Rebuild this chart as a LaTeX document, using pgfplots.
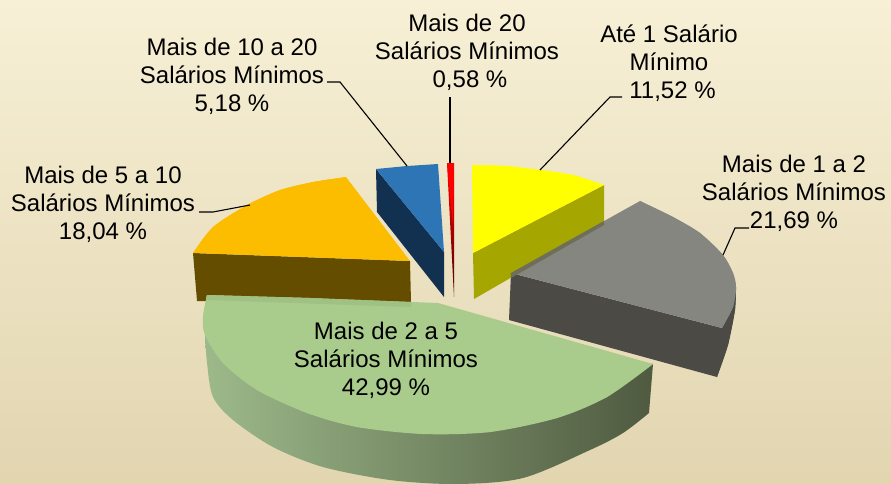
\documentclass[border=0pt]{standalone}
\usepackage{fontspec}
\setmainfont{Liberation Sans}
\usepackage{pgfplots}
\pgfplotsset{compat=1.18}
\definecolor{bgtop}{HTML}{F7F0D6}
\definecolor{bgmid}{HTML}{EEE4C6}
\definecolor{bgbot}{HTML}{E2D5B0}
\definecolor{pyellow}{HTML}{FFFF00}
\definecolor{pyellowd}{HTML}{A6A600}
\definecolor{pgray}{HTML}{868681}
\definecolor{pgrayd}{HTML}{4B4A44}
\definecolor{pgreen}{HTML}{A9CC8D}
\definecolor{pgreens}{HTML}{A0C184}
\definecolor{pgreenl}{HTML}{9DB98A}
\definecolor{pgreenm}{HTML}{74896A}
\definecolor{pgreend}{HTML}{4F5A40}
\definecolor{porange}{HTML}{FCBD00}
\definecolor{pbrown}{HTML}{654D00}
\definecolor{pblue}{HTML}{2E75B6}
\definecolor{pblued}{HTML}{12304F}
\begin{document}
\begin{tikzpicture}
\begin{axis}[
    scale only axis,
    width=891pt,
    height=483pt,
    xmin=0, xmax=891,
    ymin=0, ymax=483,
    y dir=reverse,
    hide axis,
    nodes={font=\fontsize{24}{28.3}\selectfont, align=center, text=black, inner sep=0pt},
]
% background
\addplot[draw=none, top color=bgtop, middle color=bgmid, bottom color=bgbot] coordinates {(0,0) (891,0) (891,483) (0,483)} -- cycle;

% orange slice: polygon, then the smooth arc over it
\addplot[draw=none, fill=pbrown] coordinates {(193,253) (410,261) (411,302) (197,301)} -- cycle;
\addplot[draw=none, fill=porange] coordinates {(193,253) (213,227) (247,205) (280,190) (313,182) (346,177) (410,261)} -- cycle;
\addplot[draw=none, fill=porange, smooth] coordinates {(193,253) (213,227) (247,205) (280,190) (313,182) (346,177)} -- cycle;

% blue slice
\addplot[draw=none, fill=pblued] coordinates {(376,169) (444,252) (444,297) (377,212)} -- cycle;
\addplot[draw=none, fill=pblue] coordinates {(376,169) (407,166) (438,164) (444,252)} -- cycle;

% red slice
\addplot[draw=none, top color=red, bottom color=black!70!red] coordinates {(447,163) (454,163) (454,297)} -- cycle;
\addplot[draw=none, fill=red] coordinates {(447,163) (454,163) (453,227)} -- cycle;

% yellow slice
\addplot[draw=none, fill=pyellowd] coordinates {(604,185) (473,253) (474,299) (604,224)} -- cycle;
\addplot[draw=none, fill=pyellow] coordinates {(472,165) (506,166) (540,170) (573,175) (604,185) (473,253)} -- cycle;
\addplot[draw=none, fill=pyellow, smooth] coordinates {(472,165) (506,166) (540,170) (573,175) (604,185)} -- cycle;

% gray slice
\addplot[draw=none, fill=pgrayd] coordinates {(511,273) (722,328) (736,287) (735,310) (728,345) (717,377) (509,320)} -- cycle;
\addplot[draw=none, fill=pgrayd, smooth] coordinates {(736,287) (735,310) (728,345) (717,377)} -- cycle;
\addplot[draw=none, fill=pgray] coordinates {(640,201) (673,217) (700,233) (723,255) (733,273) (736,287) (733,307) (722,328) (511,273)} -- cycle;
\addplot[draw=none, fill=pgray, smooth] coordinates {(640,201) (673,217) (700,233) (723,255) (733,273) (736,287) (733,307) (722,328)} -- cycle;
% yellow side seen through the gray
\addplot[draw=none, fill=pgray!85!pyellowd!80!black] coordinates {(604,221) (604,225) (511,278) (511,273)} -- cycle;

% green slice
\addplot[draw=none, left color=pgreenl, middle color=pgreenm, right color=pgreend, smooth] coordinates {(205,335) (207,363) (213,397) (233,420) (273,447) (323,467) (390,480) (457,484) (523,478) (590,450) (623,433) (649,413)} -- (axis cs:653,364) -- cycle;
\addplot[draw=none, fill=pgreen] coordinates {(207,295) (310,298) (438,303) (653,364) (607,397) (557,418) (490,432) (423,434) (357,427) (307,413) (257,390) (223,363) (205,335) (203,317)} -- cycle;
\addplot[draw=none, fill=pgreen, smooth] coordinates {(653,364) (607,397) (557,418) (490,432) (423,434) (357,427) (307,413) (257,390) (223,363) (205,335) (203,317) (207,295)} -- cycle;
% brown shadow on the green
\addplot[draw=none, fill=pgreens] coordinates {(207,295) (310,298) (411,302) (411,307) (206,300)} -- cycle;

% leader lines
\addplot[black, line width=1.1pt] coordinates {(450,97) (450,163)};
\addplot[black, line width=1.1pt] coordinates {(622,97) (610,97) (540,170)};
\addplot[black, line width=1.1pt] coordinates {(327,82) (340,82) (407,166)};
\addplot[black, line width=1.1pt] coordinates {(199,212) (213,212) (250,205)};
\addplot[black, line width=1.1pt] coordinates {(749,228) (735,228) (723,255)};

% labels
\node at (axis cs:467,52.5) {Mais de 20\\Salários Mínimos\\\hspace*{6pt}0,58 \%};
\node at (axis cs:669,63) {Até 1 Salário\\Mínimo\\\hspace*{7pt}11,52 \%};
\node at (axis cs:794,193.5) {Mais de 1 a 2\\Salários Mínimos\\21,69 \%};
\node at (axis cs:232,76.5) {Mais de 10 a 20\\Salários Mínimos\\5,18 \%};
\node at (axis cs:103,204.5) {Mais de 5 a 10\\Salários Mínimos\\18,04 \%};
\node at (axis cs:386,360.5) {Mais de 2 a 5\\Salários Mínimos\\42,99 \%};
\end{axis}
\end{tikzpicture}
\end{document}
